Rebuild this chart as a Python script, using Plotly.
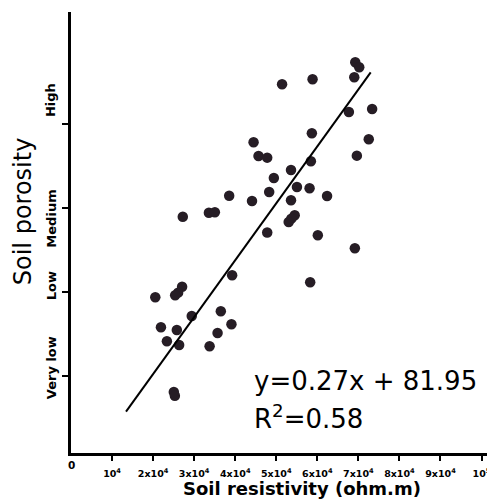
import plotly.graph_objects as go

# ---- data ----
resistivity = [69240, 70210, 69000, 58840, 51410, 67690, 73350, 72530, 58670, 69630,
               44470, 45680, 47790, 58430, 53590, 49410, 55040, 58110, 48270, 38530,
               62370, 44090, 53590, 27230, 33590, 35040, 54490, 53660, 53030, 47790,
               60120, 69140, 58260, 39250, 27060, 26090, 25370, 20530, 29410, 36490,
               39080, 21910, 25780, 35700, 23360, 26340, 33760, 25050, 25300]
porosity = [4.735, 4.675, 4.556, 4.532, 4.473, 4.143, 4.179, 3.818, 3.889, 3.623,
            3.782, 3.619, 3.599, 3.556, 3.452, 3.357, 3.250, 3.235, 3.190, 3.146,
            3.143, 3.083, 3.092, 2.896, 2.944, 2.949, 2.913, 2.873, 2.833, 2.708,
            2.675, 2.520, 2.115, 2.199, 2.063, 1.992, 1.961, 1.937, 1.714, 1.770,
            1.615, 1.580, 1.548, 1.512, 1.413, 1.369, 1.354, 0.810, 0.765]

trend_x = [13400, 73000]
trend_y = [0.575, 4.615]

x_tickvals = [10000, 20000, 30000, 40000, 50000, 60000, 70000, 80000, 90000, 100000]
x_ticktext = ["10<sup>4</sup>", "2x10<sup>4</sup>", "3x10<sup>4</sup>", "4x10<sup>4</sup>",
              "5x10<sup>4</sup>", "6x10<sup>4</sup>", "7x10<sup>4</sup>", "8x10<sup>4</sup>",
              "9x10<sup>4</sup>", "10<sup>5</sup>"]

y_tickvals = [1, 2, 3, 4]
y_labels = ["Very low", "Low", "Medium", "High"]
y_label_pos = [1.095, 2.071, 2.875, 4.286]

equation_text = "y=0.27x + 81.95"
r2_text = "R<sup>2</sup>=0.58"

FONT = "DejaVu Sans"

fig = go.Figure()
fig.add_trace(go.Scatter(
    x=resistivity, y=porosity, mode="markers",
    marker=dict(color="#261d25", size=10.5, line=dict(width=0)),
    showlegend=False, hoverinfo="skip"))
fig.add_trace(go.Scatter(
    x=trend_x, y=trend_y, mode="lines",
    line=dict(color="black", width=2),
    showlegend=False, hoverinfo="skip"))

# page body has an 8px margin, so the figure is sized to fit inside the window
fig.update_layout(
    width=487, height=492,
    margin=dict(l=63, r=5, t=4, b=47),
    paper_bgcolor="white", plot_bgcolor="white",
    xaxis=dict(range=[0, 101330], showgrid=False, zeroline=False,
               showline=True, linecolor="black", linewidth=2.5,
               tickvals=x_tickvals, ticktext=x_ticktext,
               ticks="outside", ticklen=5, tickwidth=2, tickcolor="black",
               tickfont=dict(family=FONT, size=9.5, color="black", weight="bold"),
               ticklabelstandoff=5),
    yaxis=dict(range=[0.0833, 5.333], showgrid=False, zeroline=False,
               showline=True, linecolor="black", linewidth=2.5,
               tickvals=y_tickvals, ticktext=["" for _ in y_tickvals],
               ticks="outside", ticklen=6, tickwidth=2, tickcolor="black"),
)

# y category labels (rotated)
for lab, pos in zip(y_labels, y_label_pos):
    fig.add_annotation(text=lab, xref="paper", x=-0.0477, yref="y", y=pos,
                       textangle=-90, showarrow=False, xanchor="center", yanchor="middle",
                       font=dict(family=FONT, size=13, color="black", weight="bold"))

# origin label
fig.add_annotation(text="0", xref="x", x=0, yref="paper", y=-0.008,
                   showarrow=False, xanchor="center", yanchor="top",
                   font=dict(family=FONT, size=10.5, color="black", weight="bold"))

# axis titles
fig.add_annotation(text="Soil resistivity (ohm.m)", xref="paper", x=0.556,
                   yref="paper", y=-0.0816, showarrow=False,
                   xanchor="center", yanchor="middle",
                   font=dict(family=FONT, size=18, color="black", weight="bold"))
fig.add_annotation(text="Soil porosity", xref="paper", x=-0.1146,
                   yref="paper", y=0.549, textangle=-90, showarrow=False,
                   xanchor="center", yanchor="middle",
                   font=dict(family=FONT, size=24, color="black"))

# regression text
fig.add_annotation(text=equation_text, xref="x", x=44000, yref="paper",
                   y=(453 - 380.7) / 441, showarrow=False,
                   xanchor="left", yanchor="middle",
                   font=dict(family=FONT, size=26, color="black"))
fig.add_annotation(text=r2_text, xref="x", x=44000, yref="paper",
                   y=(453 - 416.7) / 441, showarrow=False,
                   xanchor="left", yanchor="middle",
                   font=dict(family=FONT, size=26, color="black"))

fig.write_html("out.html")
